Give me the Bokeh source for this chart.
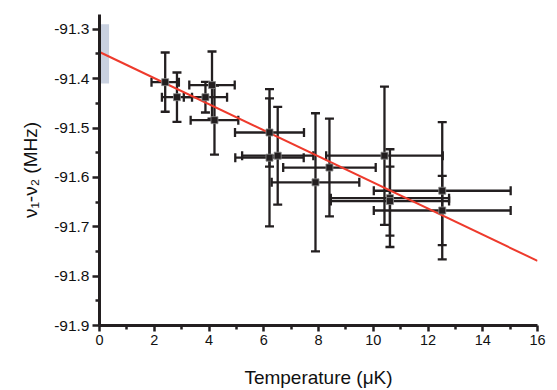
import numpy as np
from bokeh.plotting import figure
from bokeh.models import ColumnDataSource, FixedTicker, NumeralTickFormatter, Range1d
from bokeh.embed import file_html
from bokeh.resources import INLINE

# ---- data ----
temp = [2.40, 2.83, 3.87, 4.11, 4.20, 6.21, 6.21, 6.51, 7.89, 8.40, 10.41, 10.61, 10.61, 12.52, 12.52]
freq = [-91.407, -91.4375, -91.4375, -91.413, -91.484, -91.509, -91.560, -91.556,
        -91.610, -91.580, -91.556, -91.642, -91.648, -91.627, -91.667]
temp_err = [0.50, 0.55, 0.79, 0.83, 0.87, 1.26, 1.25, 1.30, 1.60, 1.69, 2.13, 2.16, 2.16, 2.50, 2.50]
freq_err = [0.060, 0.050, 0.031, 0.068, 0.070, 0.069, 0.139, 0.099, 0.140, 0.099,
            0.140, 0.099, 0.070, 0.139, 0.070]
fit_x = [0.0, 16.0]
fit_y = [-91.346, -91.769]
band_x = [0.0, 0.35]
band_y = [-91.41, -91.29]
x_major = [0, 2, 4, 6, 8, 10, 12, 14, 16]
x_minor = [1, 3, 5, 7, 9, 11, 13, 15]
y_major = [-91.9, -91.8, -91.7, -91.6, -91.5, -91.4, -91.3]
y_minor = [-91.85, -91.75, -91.65, -91.55, -91.45, -91.35]

INK = "#231f20"

t = np.array(temp); f = np.array(freq); te = np.array(temp_err); fe = np.array(freq_err)
src = ColumnDataSource(dict(
    x=t, y=f,
    xl=t - te, xh=t + te, yl=f - fe, yh=f + fe,
))

p = figure(width=549, height=390, x_range=Range1d(0, 16), y_range=Range1d(-91.9, -91.27),
           output_backend="svg", toolbar_location=None,
           min_border_left=99, min_border_right=12, min_border_top=14, min_border_bottom=62)
p.outline_line_color = None
p.xgrid.visible = False
p.ygrid.visible = False
p.background_fill_color = "white"

# grey band near T=0
p.quad(left=[band_x[0]], right=[band_x[1]], bottom=[band_y[0]], top=[band_y[1]],
       fill_color="#c9d1e0", line_color=None)

# error bars
p.segment(x0="xl", x1="xh", y0="y", y1="y", source=src, line_color=INK, line_width=2.3)
p.segment(x0="x", x1="x", y0="yl", y1="yh", source=src, line_color=INK, line_width=2.3)
# caps
p.scatter(x="xl", y="y", source=src, marker="dash", angle=np.pi / 2, size=9, line_color=INK, line_width=2.3)
p.scatter(x="xh", y="y", source=src, marker="dash", angle=np.pi / 2, size=9, line_color=INK, line_width=2.3)
p.scatter(x="x", y="yl", source=src, marker="dash", size=9, line_color=INK, line_width=2.3)
p.scatter(x="x", y="yh", source=src, marker="dash", size=9, line_color=INK, line_width=2.3)

# fit line
p.line(fit_x, fit_y, line_color="#ee3a2c", line_width=2)

# data markers
p.scatter(x="x", y="y", source=src, marker="square", size=7, fill_color=INK,
          line_color="#8a8a8a", line_width=0.8)

for ax in (p.xaxis[0], p.yaxis[0]):
    ax.axis_line_color = INK
    ax.axis_line_width = 3
    ax.major_tick_line_color = INK
    ax.minor_tick_line_color = INK
    ax.major_tick_line_width = 2.5
    ax.minor_tick_line_width = 2.5
    ax.major_tick_in = 0
    ax.minor_tick_in = 0
    ax.major_label_text_font = "Liberation Sans"
    ax.major_label_text_color = "#111111"
    ax.axis_label_text_font = "Liberation Sans"
    ax.axis_label_text_font_size = "19px"
    ax.axis_label_text_font_style = "normal"
    ax.axis_label_text_color = "#111111"

p.xaxis.major_label_text_font_size = "14.5px"
p.yaxis.major_label_text_font_size = "15.5px"
p.xaxis.ticker = FixedTicker(ticks=x_major, minor_ticks=x_minor)
p.yaxis.ticker = FixedTicker(ticks=y_major, minor_ticks=y_minor)
p.xaxis.formatter = NumeralTickFormatter(format="0")
p.yaxis.formatter = NumeralTickFormatter(format="0.0")
p.xaxis.major_tick_out = 6
p.xaxis.minor_tick_out = 4
p.yaxis.major_tick_out = 7
p.yaxis.minor_tick_out = 4
p.xaxis.major_label_standoff = 3
p.yaxis.major_label_standoff = 3
p.xaxis.axis_label = "Temperature (μK)"
p.yaxis.axis_label = "ν₁-ν₂ (MHz)"
p.xaxis.axis_label_standoff = 19
p.yaxis.axis_label_standoff = 10

open("out.html", "w").write(file_html(p, INLINE))
